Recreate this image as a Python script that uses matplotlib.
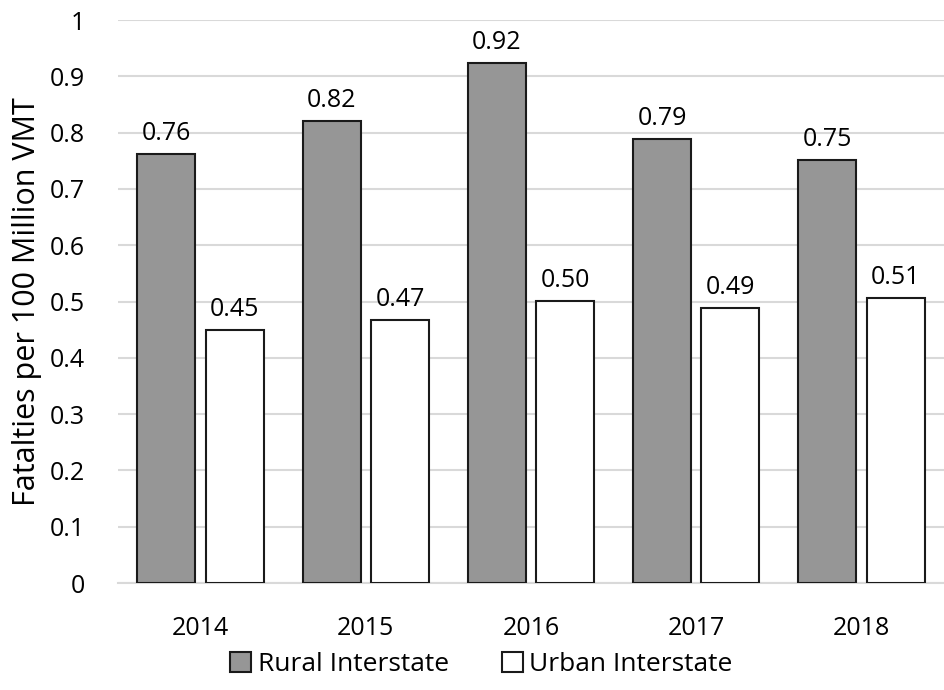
import numpy as np
from matplotlib import pyplot as plt

plt.rcParams['font.family'] = ['Open Sans', 'DejaVu Sans']

years = ['2014', '2015', '2016', '2017', '2018']
rural = [0.762, 0.821, 0.924, 0.789, 0.751]
urban = [0.449, 0.467, 0.501, 0.488, 0.507]

fig = plt.figure(figsize=(9.44, 6.9), dpi=100)
ax = fig.add_axes([0.125, 0.155, 0.875, 0.816])

x = np.arange(len(years))
w = 0.35
off = 0.207
b1 = ax.bar(x - off, rural, w, color='#969696', edgecolor='#1a1a1a', linewidth=1.5,
            label='Rural Interstate', zorder=3)
b2 = ax.bar(x + off, urban, w, color='white', edgecolor='#1a1a1a', linewidth=1.5,
            label='Urban Interstate', zorder=3)

for bars, vals in [(b1, rural), (b2, urban)]:
    for b, v in zip(bars, vals):
        ax.text(b.get_x() + b.get_width() / 2, v + 0.014, '%.2f' % v,
                ha='center', va='bottom', fontsize=18)

ax.set_ylim(0, 1)
ax.set_xlim(-0.5, 4.5)
ax.set_yticks(np.arange(0, 1.01, 0.1))
ax.set_yticklabels(['0', '0.1', '0.2', '0.3', '0.4', '0.5', '0.6', '0.7', '0.8', '0.9', '1'])
ax.set_xticks(x)
ax.set_xticklabels(years)
ax.tick_params(axis='both', length=0, labelsize=18)
ax.tick_params(axis='x', pad=24)
ax.tick_params(axis='y', pad=24)
ax.yaxis.grid(True, color='#d9d9d9', linewidth=1.5, zorder=0)
for s in ['top', 'right', 'left']:
    ax.spines[s].set_visible(False)
ax.spines['bottom'].set_color('#d9d9d9')
ax.spines['bottom'].set_linewidth(1.5)
ax.set_ylabel('Fatalties per 100 Million VMT', fontsize=22, labelpad=5)

ax.legend(loc='upper center', bbox_to_anchor=(0.44, -0.08), ncol=2, frameon=False,
          fontsize=19, handlelength=0.8, handleheight=0.8, handletextpad=0.25,
          columnspacing=2.0)

plt.savefig('out.png', dpi=100)
